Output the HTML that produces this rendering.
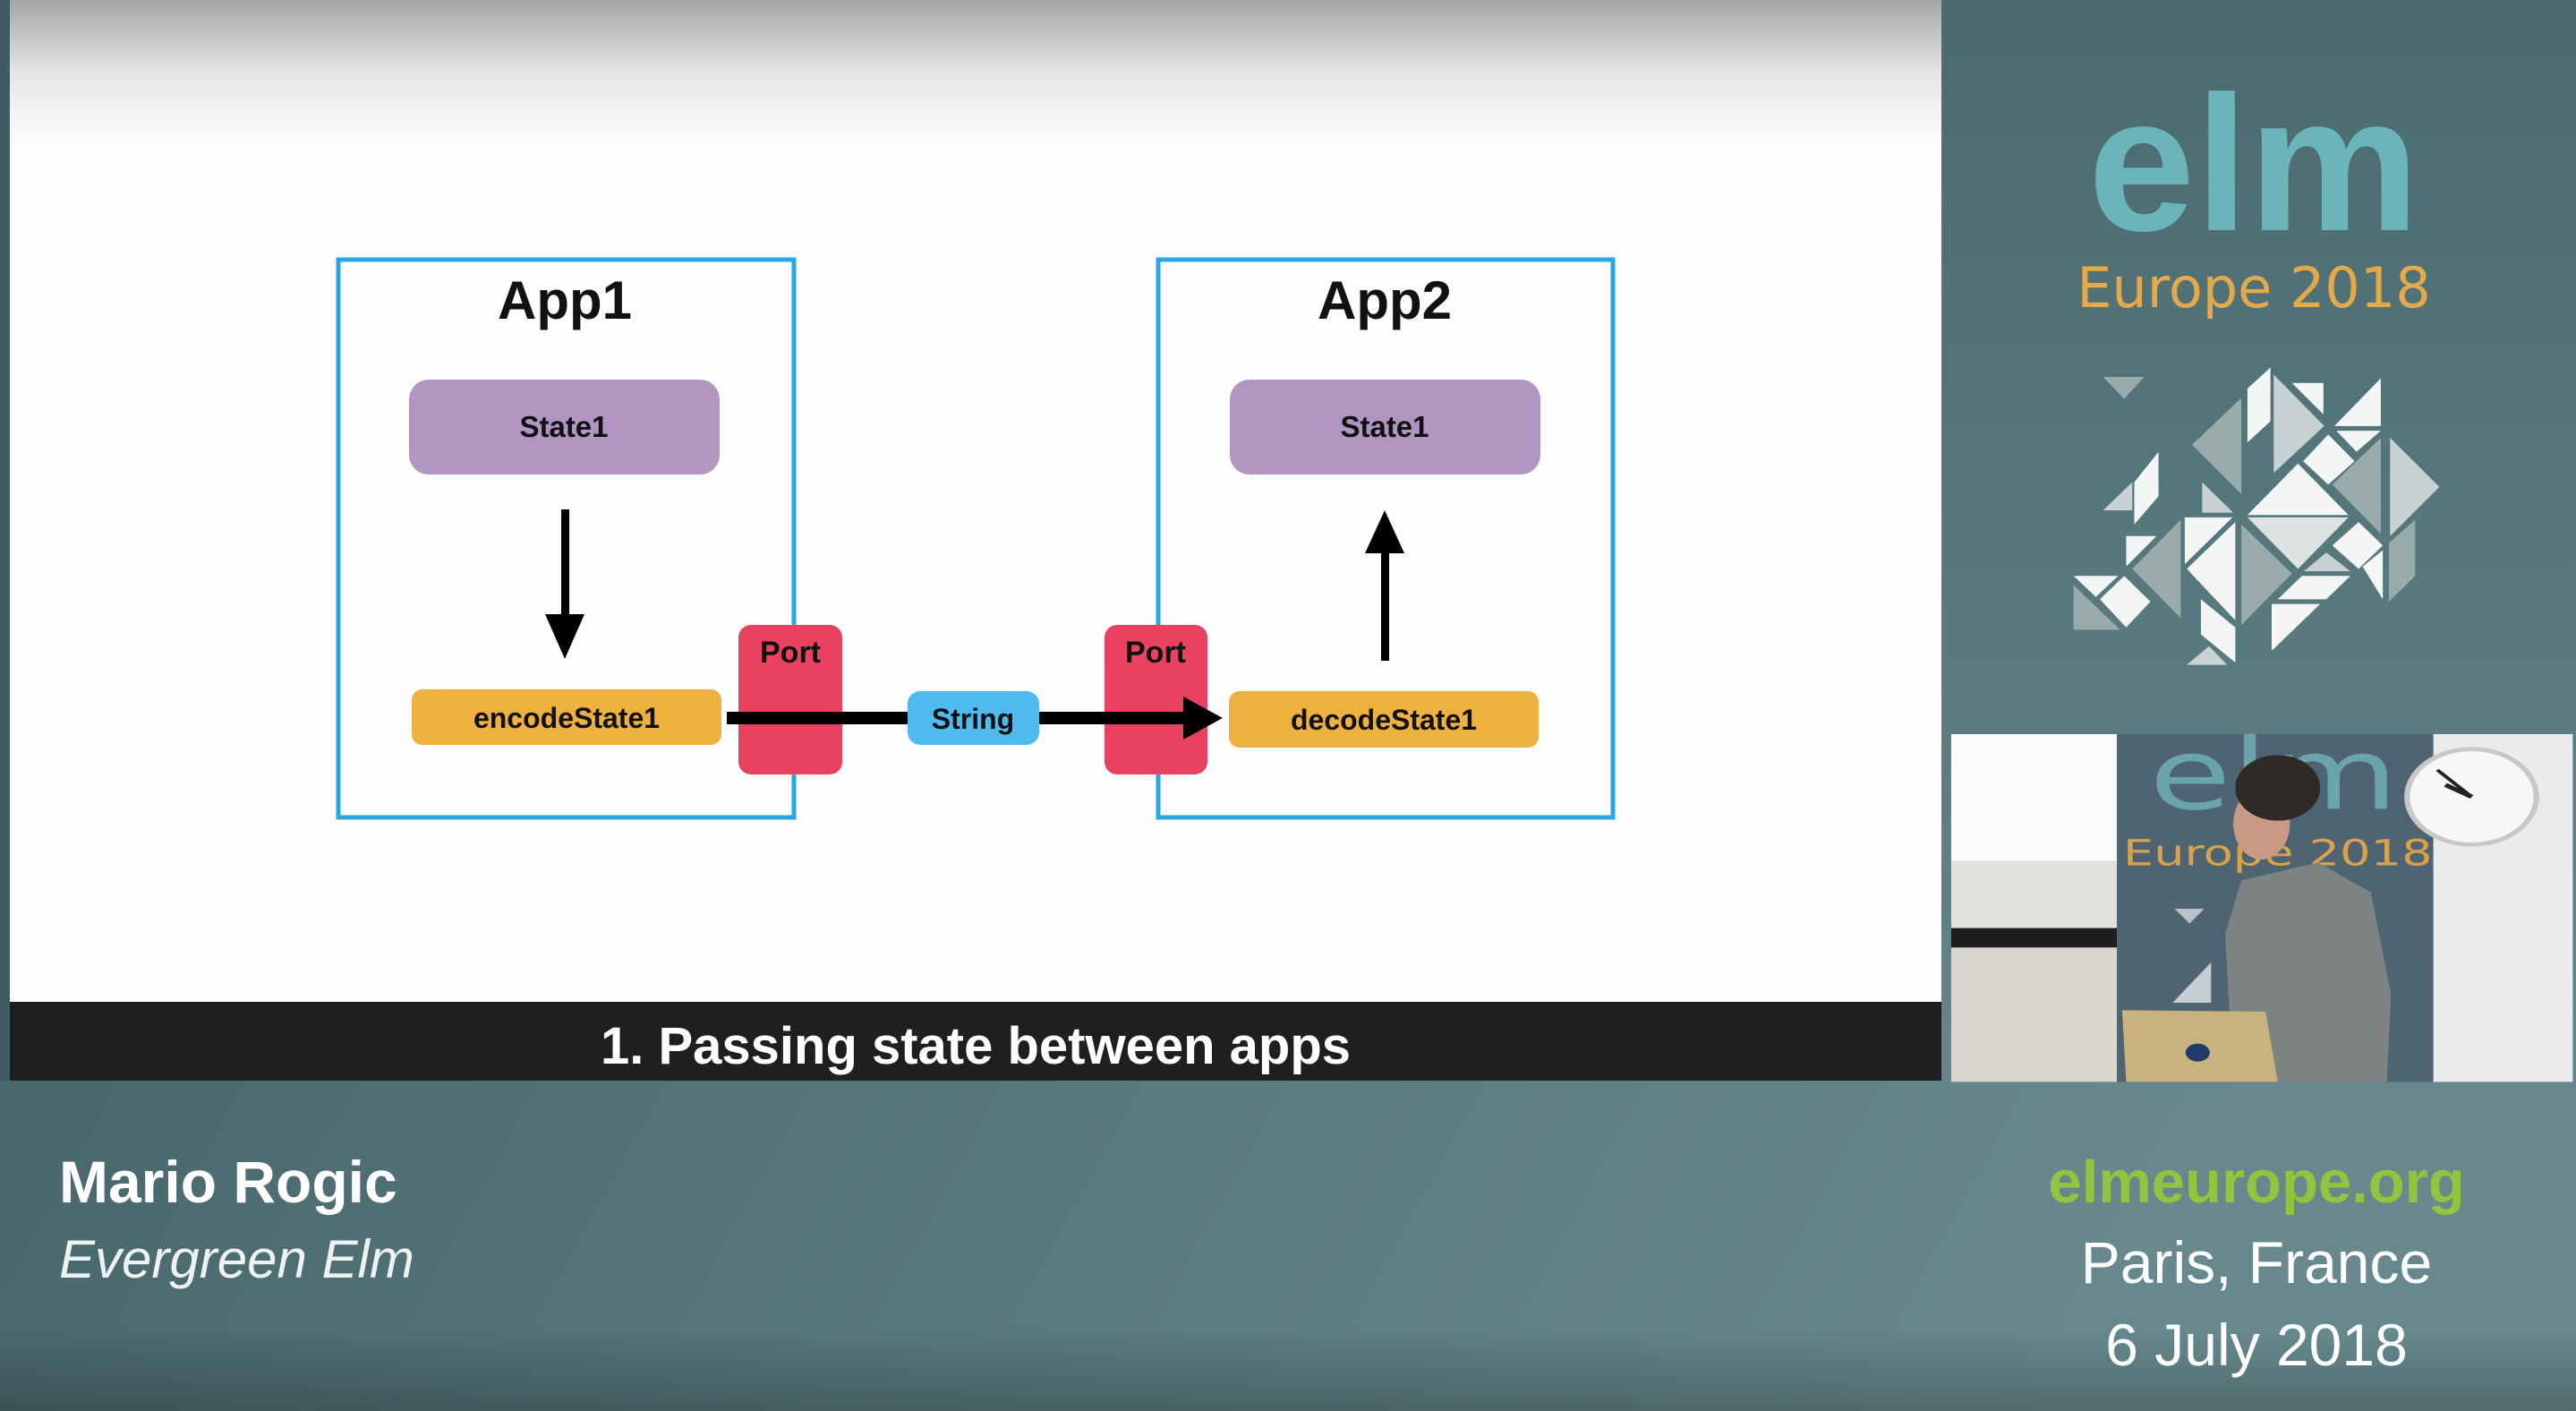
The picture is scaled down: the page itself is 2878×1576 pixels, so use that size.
<!DOCTYPE html>
<html><head><meta charset="utf-8"><style>
html,body{margin:0;padding:0;width:2878px;height:1576px;overflow:hidden;background:#4d6d72}
svg{display:block}
</style></head><body>
<svg width="2878" height="1576" viewBox="0 0 2878 1576" xmlns="http://www.w3.org/2000/svg" font-family="Liberation Sans, Arial, sans-serif">
<defs>
<linearGradient id="band" x1="0" y1="0" x2="1" y2="0.3">
<stop offset="0" stop-color="#415d63"/><stop offset="0.6" stop-color="#577a7e"/><stop offset="1" stop-color="#67898d"/>
</linearGradient>
<linearGradient id="bandv" x1="0" y1="0" x2="0" y2="1">
<stop offset="0" stop-color="#000" stop-opacity="0"/><stop offset="0.75" stop-color="#000" stop-opacity="0"/><stop offset="1" stop-color="#000" stop-opacity="0.22"/>
</linearGradient>
<linearGradient id="top" x1="0" y1="0" x2="0" y2="1">
<stop offset="0" stop-color="#a4a6a6"/><stop offset="0.5" stop-color="#e4e4e4"/><stop offset="1" stop-color="#fdfdfd"/>
</linearGradient>
<linearGradient id="side" x1="0" y1="0" x2="0" y2="1">
<stop offset="0" stop-color="#4a6a6e"/><stop offset="1" stop-color="#628589"/>
</linearGradient>
</defs>
<rect x="0" y="0" width="2878" height="1576" fill="url(#band)"/>
<rect x="0" y="1207" width="2878" height="369" fill="url(#bandv)"/>
<rect x="2169" y="0" width="709" height="1207" fill="url(#side)"/>
<rect x="0" y="0" width="11" height="1207" fill="#3f5b61"/>
<rect x="11" y="0" width="2158" height="1119" fill="#fdfdfd"/>
<rect x="11" y="0" width="2158" height="160" fill="url(#top)"/>
<rect x="11" y="1119" width="2158" height="88" fill="#1e201f"/>
<text x="1090" y="1188" font-size="58" font-weight="bold" fill="#ffffff" text-anchor="middle">1. Passing state between apps</text>

<rect x="378" y="290" width="509" height="623" fill="none" stroke="#2ba6e2" stroke-width="5"/>
<rect x="1294" y="290" width="508" height="623" fill="none" stroke="#2ba6e2" stroke-width="5"/>
<text x="631" y="356" font-size="60" font-weight="bold" text-anchor="middle" fill="#111">App1</text>
<text x="1547" y="356" font-size="60" font-weight="bold" text-anchor="middle" fill="#111">App2</text>

<rect x="457" y="424" width="347" height="106" rx="22" fill="#b096c1"/>
<rect x="1374" y="424" width="347" height="106" rx="22" fill="#b096c1"/>
<text x="630" y="488" font-size="33" font-weight="bold" text-anchor="middle" fill="#111">State1</text>
<text x="1547" y="488" font-size="33" font-weight="bold" text-anchor="middle" fill="#111">State1</text>

<rect x="627" y="569" width="9" height="120" fill="#000"/>
<polygon points="609,686 653,686 631,736" fill="#000"/>
<rect x="1543" y="615" width="9" height="123" fill="#000"/>
<polygon points="1525,618 1569,618 1547,570" fill="#000"/>

<rect x="825" y="698" width="116" height="167" rx="14" fill="#e84260"/>
<rect x="1234" y="698" width="115" height="167" rx="14" fill="#e84260"/>
<text x="883" y="740" font-size="34" font-weight="bold" text-anchor="middle" fill="#111">Port</text>
<text x="1291" y="740" font-size="34" font-weight="bold" text-anchor="middle" fill="#111">Port</text>

<rect x="460" y="770" width="346" height="62" rx="12" fill="#eeb03e"/>
<rect x="1373" y="772" width="346" height="63" rx="12" fill="#eeb03e"/>
<text x="633" y="813" font-size="32" font-weight="bold" text-anchor="middle" fill="#111">encodeState1</text>
<text x="1546" y="815" font-size="32" font-weight="bold" text-anchor="middle" fill="#111">decodeState1</text>

<rect x="812" y="795" width="515" height="14" fill="#000"/>
<polygon points="1322,778 1366,802 1322,826" fill="#000"/>
<rect x="1014" y="772" width="147" height="60" rx="14" fill="#4fbaed"/>
<text x="1087" y="814" font-size="32" font-weight="bold" text-anchor="middle" fill="#111">String</text>

<text x="2518" y="257" font-size="215" font-weight="bold" fill="#6bb4ba" text-anchor="middle">elm</text>
<text x="2518" y="343" font-size="62" fill="#e6a94a" text-anchor="middle" font-family="DejaVu Sans, sans-serif">Europe 2018</text>
<svg x="2170" y="0" width="708" height="820" viewBox="0 0 1568 1568" preserveAspectRatio="none">
<g>
<polygon points="398,805 500,805 450,852" fill="#9aabac"/>
<polygon points="755,830 812,785 812,900 755,945" fill="#f4f6f6"/>
<polygon points="820,800 945,910 820,1010" fill="#c9d2d3"/>
<polygon points="865,818 943,818 943,885" fill="#f4f6f6"/>
<polygon points="970,910 1085,808 1085,910" fill="#f4f6f6"/>
<polygon points="618,950 740,850 740,1055" fill="#9aabac"/>
<polygon points="975,920 1085,920 1025,965" fill="#f4f6f6"/>
<polygon points="893,985 955,928 1020,985 955,1035" fill="#f4f6f6"/>
<polygon points="1108,935 1230,1040 1108,1145" fill="#c9d2d3"/>
<polygon points="965,1035 1085,935 1085,1140" fill="#9aabac"/>
<polygon points="755,1100 880,990 1005,1100" fill="#f4f6f6"/>
<polygon points="755,1105 1005,1105 880,1215" fill="#dde3e3"/>
<polygon points="475,1030 535,965 535,1060 475,1120" fill="#f4f6f6"/>
<polygon points="398,1090 470,1090 470,1030" fill="#c9d2d3"/>
<polygon points="643,1030 720,1095 643,1095" fill="#c9d2d3"/>
<polygon points="600,1105 718,1105 600,1205" fill="#f4f6f6"/>
<polygon points="455,1145 530,1145 455,1210" fill="#f4f6f6"/>
<polygon points="470,1215 590,1110 590,1320" fill="#9aabac"/>
<polygon points="605,1215 725,1115 725,1325" fill="#f4f6f6"/>
<polygon points="740,1120 865,1225 740,1335" fill="#9aabac"/>
<polygon points="965,1165 1030,1115 1090,1165 1030,1215" fill="#f4f6f6"/>
<polygon points="1105,1160 1170,1110 1170,1230 1105,1285" fill="#9aabac"/>
<polygon points="1040,1210 1090,1175 1090,1280" fill="#f4f6f6"/>
<polygon points="325,1230 435,1230 380,1275" fill="#f4f6f6"/>
<polygon points="390,1280 450,1230 515,1285 455,1340" fill="#f4f6f6"/>
<polygon points="325,1250 440,1345 325,1345" fill="#9aabac"/>
<polygon points="640,1280 725,1340 725,1415 640,1355" fill="#f4f6f6"/>
<polygon points="830,1280 890,1230 1010,1230 950,1280" fill="#f4f6f6"/>
<polygon points="815,1290 935,1290 815,1390" fill="#f4f6f6"/>
<polygon points="605,1420 705,1420 660,1380" fill="#c9d2d3"/>
<polygon points="895,1220 950,1180 1010,1220" fill="#c9d2d3"/>
</g>
</svg>

<svg x="2170" y="810" width="708" height="410" viewBox="0 0 1568 1230" preserveAspectRatio="none">
<rect x="22" y="30" width="410" height="425" fill="#fbfbfb"/>
<rect x="22" y="455" width="410" height="225" fill="#e3e1dd"/>
<rect x="22" y="680" width="410" height="65" fill="#1d1d1d"/>
<rect x="22" y="745" width="410" height="450" fill="#d9d6d0"/>
<rect x="432" y="30" width="783" height="1165" fill="#4f6472"/>
<text x="820" y="280" font-size="330" fill="#6aa4ac" text-anchor="middle" font-family="DejaVu Sans, sans-serif">elm</text>
<text x="830" y="470" font-size="120" fill="#d9a24a" text-anchor="middle" font-family="DejaVu Sans, sans-serif">Europe 2018</text>
<polygon points="575,615 648,615 612,665" fill="#b8c2c6"/>
<polygon points="570,930 665,795 665,930" fill="#c6ced1"/>
<rect x="1215" y="30" width="345" height="1165" fill="#ebebe9"/>
<circle cx="1310" cy="240" r="160" fill="#f7f7f7" stroke="#c8c8c8" stroke-width="14"/>
<line x1="1310" y1="240" x2="1225" y2="150" stroke="#222" stroke-width="10"/>
<line x1="1310" y1="240" x2="1245" y2="200" stroke="#222" stroke-width="14"/>
<polygon points="740,520 930,460 1060,560 1110,900 1100,1195 720,1195 700,700" fill="#7d8282"/>
<ellipse cx="790" cy="330" rx="70" ry="120" fill="#c99a83"/>
<ellipse cx="830" cy="210" rx="105" ry="110" fill="#2f2a26"/>
<polygon points="445,955 800,960 830,1195 455,1195" fill="#c8b37e"/>
<circle cx="632" cy="1097" r="30" fill="#233a6b"/>
</svg>

<text x="66" y="1343" font-size="66" font-weight="bold" fill="#ffffff">Mario Rogic</text>
<text x="66" y="1427" font-size="60" font-style="italic" fill="#eef2f2">Evergreen Elm</text>
<text x="2521" y="1343" font-size="67" font-weight="bold" fill="#8ec63f" text-anchor="middle">elmeurope.org</text>
<text x="2521" y="1433" font-size="66" fill="#ffffff" text-anchor="middle">Paris, France</text>
<text x="2521" y="1525" font-size="66" fill="#ffffff" text-anchor="middle">6 July 2018</text>
</svg>
</body></html>
